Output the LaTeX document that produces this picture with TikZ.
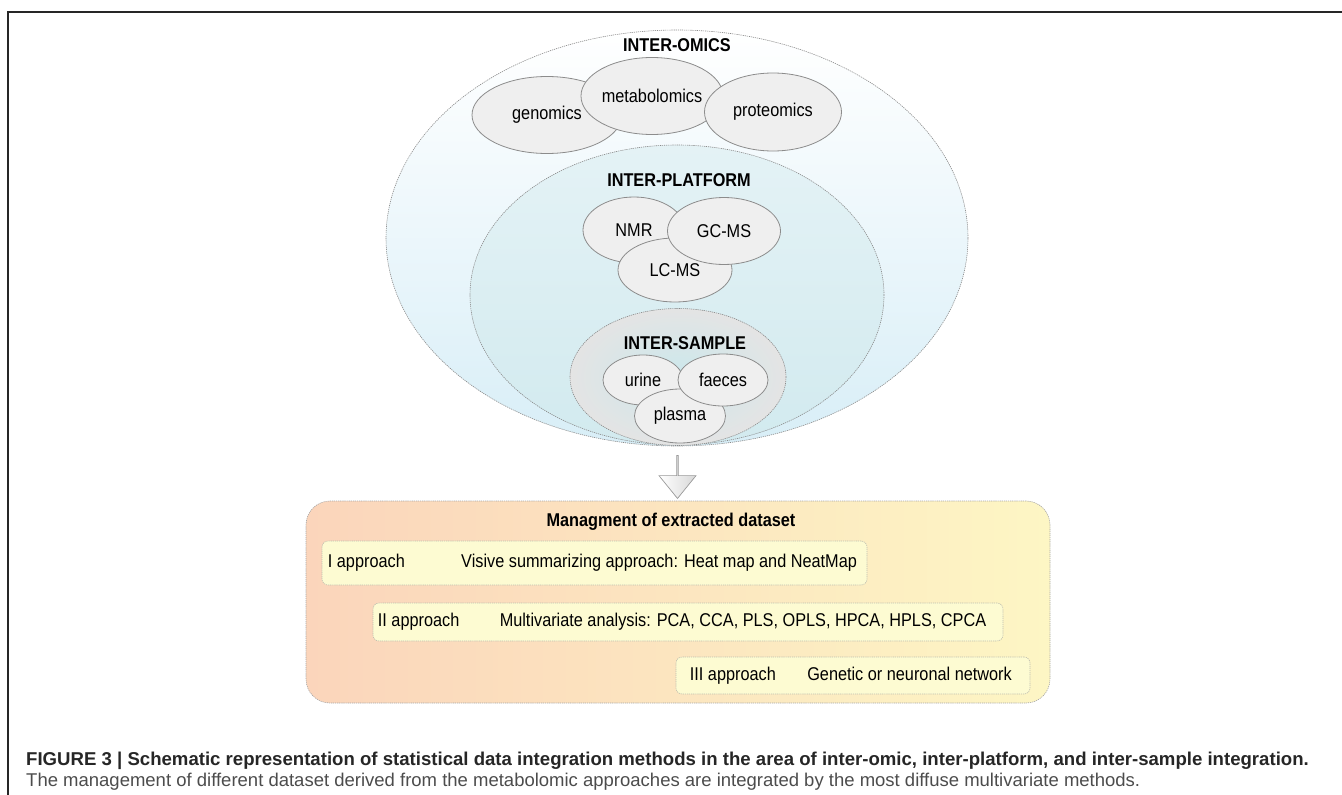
\documentclass[tikz,border=0pt]{standalone}
\usepackage{fontspec}
\setmainfont{Liberation Sans}
\newfontfamily\narrowfont[FakeStretch=0.88]{Liberation Sans}
\usetikzlibrary{shapes.geometric,shapes.arrows,positioning}

\definecolor{zoneline}{HTML}{8A8A8A}
\definecolor{omicsblue}{HTML}{D8EEF7}
\definecolor{platformblue}{HTML}{D2EAEF}
\definecolor{samplegray}{HTML}{E4E4E4}
\definecolor{sampleteal}{HTML}{CBE8EC}
\definecolor{itemfill}{HTML}{EFEFEF}
\definecolor{itemline}{HTML}{8C8C8C}
\definecolor{peach}{HTML}{FBD5BB}
\definecolor{paleyellow}{HTML}{FDF6C4}
\definecolor{stepfill}{HTML}{FDFBD2}
\definecolor{stepline}{HTML}{BDBDAE}
\definecolor{arrowgray}{HTML}{D8D8D8}

\begin{document}
\begin{tikzpicture}[x=1pt, y=-1pt,
  zone/.style={shape=ellipse, draw=zoneline, line width=0.6pt, dash pattern=on 1.2pt off 0.9pt, inner sep=0pt},
  item/.style={shape=ellipse, draw=itemline, fill=itemfill, line width=0.8pt, inner sep=0pt, font=\narrowfont\fontsize{18.5}{20}\selectfont},
  head/.style={inner sep=0pt, font=\narrowfont\bfseries\fontsize{18.5}{20}\selectfont},
  stepbox/.style={draw=stepline, fill=stepfill, line width=0.6pt, dash pattern=on 1.2pt off 0.9pt, rounded corners=6pt, inner sep=0pt},
  steptext/.style={inner sep=0pt, font=\narrowfont\fontsize{18.5}{20}\selectfont},
]

%frame
\useasboundingbox (0,0) rectangle (1342,795);
\draw[line width=1.6pt, black!85] (8,795) -- (8,12) -- (1342,12);

%zones
\node (omics) at (677,238) [zone, top color=white, bottom color=omicsblue, minimum width=582pt, minimum height=416pt] {};
\node (platform) at (677,295) [zone, top color=platformblue!60, bottom color=platformblue, minimum width=414pt, minimum height=300pt] {};
\node (sample) at (678,377) [zone, inner color=sampleteal, outer color=samplegray, minimum width=216pt, minimum height=137pt] {};

\node (omics label) at (677,45) [head] {INTER-OMICS};
\node (platform label) at (679,180) [head] {INTER-PLATFORM};
\node (sample label) at (685,343) [head] {INTER-SAMPLE};

%omics
\node (genomics) at (547,115) [item, minimum width=150pt, minimum height=77pt] {genomics};
\node (metabolomics) at (652,96) [item, minimum width=142pt, minimum height=77pt] {metabolomics};
\node (proteomics) at (773,112) [item, minimum width=137pt, minimum height=78pt] {proteomics};

%platforms
\node (nmr) at (634,230) [item, minimum width=102pt, minimum height=66pt] {NMR};
\node (lcms) at (675,270) [item, minimum width=114pt, minimum height=64pt] {LC-MS};
\node (gcms) at (724,231) [item, minimum width=113pt, minimum height=67pt] {GC-MS};

%samples
\node (urine) at (643,380) [item, minimum width=80pt, minimum height=50pt] {urine};
\node (plasma) at (680,416) [item, minimum width=91pt, minimum height=54pt] {plasma};
\node (faeces) at (723,380) [item, minimum width=90pt, minimum height=52pt] {faeces};

%arrow
\node (down) at (677.5,476.5) [single arrow, shape border rotate=270, draw=black!40, line width=0.7pt, left color=white, right color=arrowgray, minimum width=37pt, minimum height=43pt, single arrow head extend=8pt, single arrow tip angle=78, inner sep=0pt] {};

%management
\node (manage) at (678,602) [draw=black!35, line width=0.6pt, dash pattern=on 1.2pt off 0.9pt, rounded corners=24pt, left color=peach, right color=paleyellow, minimum width=744pt, minimum height=202pt, inner sep=0pt] {};
\node (manage title) at (671,522) [head] {Managment of extracted dataset};

\node (first) at (594.5,563) [stepbox, minimum width=545pt, minimum height=44pt] {};
\node (second) at (688,622) [stepbox, minimum width=630pt, minimum height=38pt] {};
\node (third) at (853,675.5) [stepbox, minimum width=354pt, minimum height=37pt] {};

\node (first name) [steptext, right=6pt of first.west] {I approach};
\node (first method) [steptext, base right=56pt of first name] {Visive summarizing approach: Heat map and NeatMap};
\node (second name) [steptext, right=5pt of second.west] {II approach};
\node (second method) [steptext, base right=40pt of second name] {Multivariate analysis: PCA, CCA, PLS, OPLS, HPCA, HPLS, CPCA};
\node (third name) [steptext, right=14pt of third.west] {III approach};
\node (third method) [steptext, base right=31pt of third name] {Genetic or neuronal network};

%caption
\node (caption top) at (26,765) [anchor=base west, inner sep=0pt, text=black!85, font=\bfseries\fontsize{18.6}{20}\selectfont] {FIGURE 3 | Schematic representation of statistical data integration methods in the area of inter-omic, inter-platform, and inter-sample integration.};
\node (caption bottom) at (26,786) [anchor=base west, inner sep=0pt, text=black!70, font=\fontsize{18.5}{20}\selectfont] {The management of different dataset derived from the metabolomic approaches are integrated by the most diffuse multivariate methods.};

\end{tikzpicture}
\end{document}
